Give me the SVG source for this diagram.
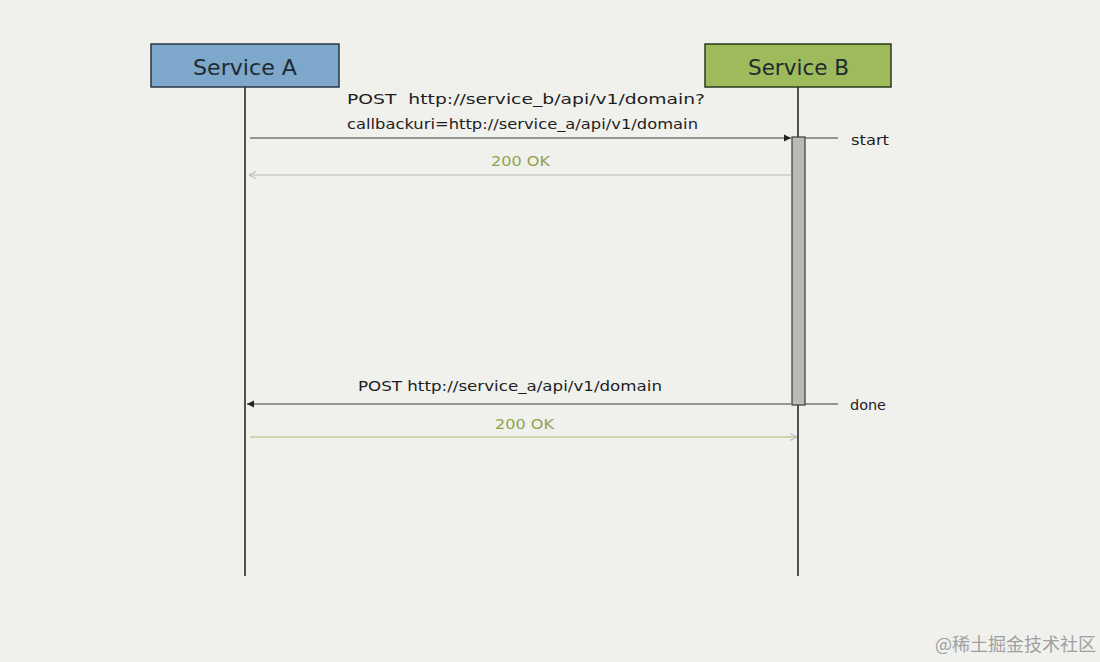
<svg xmlns="http://www.w3.org/2000/svg" width="1100" height="662" viewBox="0 0 1100 662">
<style>
.title{font-family:"DejaVu Sans",Verdana,sans-serif;font-size:21.5px;fill:#1f2a33}
.msg{font-family:"DejaVu Sans",Verdana,sans-serif;font-size:14.5px;fill:#1e1e1e}
.ok{font-family:"DejaVu Sans",Verdana,sans-serif;font-size:14.5px;fill:#8fa44e}
.life{stroke:#2a2a2a;stroke-width:1.6}
.line{stroke:#3a3a3a;stroke-width:1.2}
.ret{stroke:#b9bdb0;stroke-width:1.2}
.retg{stroke:#a9be72;stroke-width:1.2}
.side{font-family:"DejaVu Sans",Verdana,sans-serif;font-size:14.5px;fill:#1e1e1e}
</style>
<defs>
<marker id="solid" markerWidth="8" markerHeight="8" refX="7" refY="4" orient="auto" markerUnits="userSpaceOnUse">
<path d="M0,0.5 L7,4 L0,7.5 Z" fill="#222"/>
</marker>
<marker id="open" markerWidth="8" markerHeight="8" refX="7" refY="4" orient="auto" markerUnits="userSpaceOnUse">
<path d="M0,0.5 L7,4 L0,7.5" fill="none" stroke="#b0b4a6" stroke-width="1"/>
</marker>
</defs>
<rect width="1100" height="662" fill="#f0f0ed"/>
<g id="lifelines">
<line class="life" x1="245" y1="87" x2="245" y2="576"/>
<line class="life" x1="798" y1="87" x2="798" y2="576"/>
</g>
<g id="serviceA">
<rect x="151" y="44" width="188" height="43" fill="#7ea7cc" stroke="#2a3440" stroke-width="1.5"/>
<text class="title" x="193" y="75" textLength="104" lengthAdjust="spacingAndGlyphs">Service A</text>
</g>
<g id="serviceB">
<rect x="705" y="44" width="186" height="43" fill="#9dbb5b" stroke="#2c3a1c" stroke-width="1.5"/>
<text class="title" x="748" y="75" textLength="101" lengthAdjust="spacingAndGlyphs">Service B</text>
</g>
<g id="activation">
<rect x="792" y="137" width="13" height="268" fill="#bdb9b3" stroke="#3a3a3a" stroke-width="1.2"/>
</g>
<g id="connectors">
<line class="line" x1="250" y1="138" x2="791" y2="138" marker-end="url(#solid)"/>
<line class="ret" x1="791" y1="175" x2="249" y2="175" marker-end="url(#open)"/>
<line class="line" x1="791" y1="404" x2="247" y2="404" marker-end="url(#solid)"/>
<line class="retg" x1="250" y1="437" x2="797" y2="437" marker-end="url(#open)"/>
<line class="line" x1="805" y1="138" x2="838" y2="138"/>
<line class="line" x1="805" y1="404" x2="838" y2="404"/>
</g>
<g id="labels">
<text class="msg" x="347" y="104" textLength="358" lengthAdjust="spacingAndGlyphs" xml:space="preserve">POST  http://service_b/api/v1/domain?</text>
<text class="msg" x="347" y="129" textLength="351" lengthAdjust="spacingAndGlyphs">callbackuri=http://service_a/api/v1/domain</text>
<text class="ok" x="491" y="166" textLength="59" lengthAdjust="spacingAndGlyphs">200 OK</text>
<text class="msg" x="358" y="391" textLength="304" lengthAdjust="spacingAndGlyphs">POST http://service_a/api/v1/domain</text>
<text class="ok" x="495" y="429" textLength="59" lengthAdjust="spacingAndGlyphs">200 OK</text>
<text class="side" x="851" y="145" textLength="38" lengthAdjust="spacingAndGlyphs">start</text>
<text class="side" x="850" y="410" textLength="36" lengthAdjust="spacingAndGlyphs">done</text>
</g>
<text x="1096" y="651" text-anchor="end" font-family="'Noto Sans CJK SC',sans-serif" font-size="18" fill="#a0a0a0">@稀土掘金技术社区</text>
</svg>
